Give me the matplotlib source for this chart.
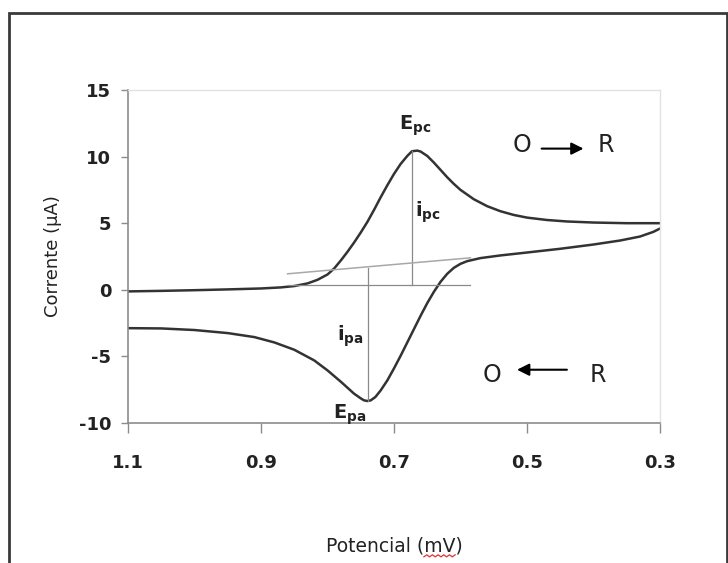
import numpy as np
import matplotlib
matplotlib.use("Agg")
import matplotlib.pyplot as plt
from matplotlib.patches import Rectangle

# forward scan (reduction, O -> R), potential goes 1.1 -> 0.3
fwd_potential = [1.10, 1.05, 1.00, 0.95, 0.90, 0.87, 0.85, 0.83, 0.815, 0.80,
                 0.79, 0.78, 0.77, 0.76, 0.75, 0.74, 0.73, 0.72, 0.71, 0.70,
                 0.69, 0.68, 0.673, 0.665, 0.66, 0.65, 0.64, 0.63, 0.62, 0.61,
                 0.60, 0.58, 0.56, 0.54, 0.52, 0.50, 0.47, 0.44, 0.40, 0.35,
                 0.30]
fwd_current = [-0.12, -0.08, -0.03, 0.03, 0.10, 0.18, 0.28, 0.48, 0.75, 1.15,
               1.6, 2.2, 2.85, 3.55, 4.3, 5.1, 6.0, 6.95, 7.85, 8.7,
               9.45, 10.05, 10.4, 10.45, 10.38, 10.05, 9.55, 9.0, 8.45, 7.95,
               7.5, 6.8, 6.28, 5.9, 5.62, 5.42, 5.24, 5.13, 5.05, 5.0,
               5.0]

# reverse scan (oxidation, R -> O), potential goes 0.3 -> 1.1
rev_potential = [0.30, 0.31, 0.33, 0.36, 0.40, 0.45, 0.50, 0.54, 0.57, 0.59,
                 0.60, 0.61, 0.62, 0.63, 0.64, 0.65, 0.66, 0.67, 0.68, 0.69,
                 0.70, 0.71, 0.72, 0.728, 0.735, 0.74, 0.745, 0.75, 0.76, 0.77,
                 0.78, 0.80, 0.82, 0.85, 0.88, 0.91, 0.95, 1.00, 1.05, 1.10]
rev_current = [4.6, 4.35, 4.0, 3.7, 3.4, 3.08, 2.8, 2.58, 2.38, 2.15,
               1.95, 1.65, 1.2, 0.6, -0.15, -1.0, -1.95, -2.95, -3.95, -4.95,
               -5.9, -6.8, -7.55, -8.05, -8.3, -8.35, -8.3, -8.15, -7.8, -7.35,
               -6.9, -6.05, -5.3, -4.5, -3.95, -3.55, -3.25, -3.02, -2.9, -2.88]

# peak construction lines
epc, ipc_peak, ipc_base = 0.673, 10.45, 0.37
epa, ipa_peak, ipa_base = 0.739, -8.35, 1.6
base_c = ([0.86, 0.585], [0.37, 0.37])      # cathodic baseline
base_a = ([0.86, 0.585], [1.2, 2.4])        # anodic baseline (extrapolated)

x_ticks = [1.1, 0.9, 0.7, 0.5, 0.3]
y_ticks = [-10, -5, 0, 5, 10, 15]

plt.rcParams['font.family'] = ['DejaVu Sans']
plt.rcParams['mathtext.fontset'] = 'dejavusans'

W, H = 728, 563
fig = plt.figure(figsize=(W / 100, H / 100), dpi=100)
fig.patch.set_facecolor('white')

# outer frame around the whole chart
fig.patches.append(Rectangle((9 / W, -0.05), 718 / W, 1.05 - 13 / H,
                             transform=fig.transFigure, fill=False,
                             edgecolor='#3a3a3a', linewidth=2))

ax = fig.add_axes([128 / W, 1 - 423 / H, 532 / W, 333 / H])

ax.plot(fwd_potential, fwd_current, color='#333333', lw=1.8, solid_capstyle='round')
ax.plot(rev_potential, rev_current, color='#333333', lw=1.8, solid_capstyle='round')

ax.plot([epc, epc], [ipc_base, ipc_peak], color='#8a8a8a', lw=0.9)
ax.plot([epa, epa], [ipa_base, ipa_peak], color='#8a8a8a', lw=0.9)
ax.plot(*base_c, color='#8a8a8a', lw=0.9)
ax.plot(*base_a, color='#a8a8a8', lw=1.1)

ax.set_xlim(1.1, 0.3)
ax.set_ylim(-10, 15)
ax.set_xticks(x_ticks)
ax.set_xticklabels([f"{v:.1f}" for v in x_ticks])
ax.set_yticks(y_ticks)
ax.set_yticklabels([str(v) for v in y_ticks])

for side in ['left', 'bottom']:
    ax.spines[side].set_color('#8c8c8c')
    ax.spines[side].set_linewidth(1.2)
for side in ['top', 'right']:
    ax.spines[side].set_color('#e2e2e2')
    ax.spines[side].set_linewidth(1.0)

ax.tick_params(axis='both', direction='out', color='#8c8c8c', width=1.0,
               labelsize=13, labelcolor='#222222')
ax.tick_params(axis='x', length=7, pad=15)
ax.tick_params(axis='y', length=5, pad=7)
for lab in ax.get_xticklabels() + ax.get_yticklabels():
    lab.set_fontweight('bold')

ax.set_ylabel('Corrente (µA)', fontsize=13, color='#222222', labelpad=12)
xlab = ax.set_xlabel('Potencial (mV)', fontsize=13.5, color='#222222', labelpad=47)

# peak labels
ax.text(0.668, 12.3, r'$\mathbf{E}_{\mathbf{pc}}$', fontsize=14, ha='center', va='center', color='#222222')
ax.text(0.668, 5.8, r'$\mathbf{i}_{\mathbf{pc}}$', fontsize=14, ha='left', va='center', color='#222222')
ax.text(0.765, -3.45, r'$\mathbf{i}_{\mathbf{pa}}$', fontsize=14, ha='center', va='center', color='#222222')
ax.text(0.766, -9.4, r'$\mathbf{E}_{\mathbf{pa}}$', fontsize=14, ha='center', va='center', color='#222222')

# reaction direction
ax.text(0.5075, 10.85, 'O', fontsize=17, ha='center', va='center', color='#222222')
ax.text(0.381, 10.85, 'R', fontsize=17, ha='center', va='center', color='#222222')
ax.annotate('', xy=(0.415, 10.6), xytext=(0.478, 10.6),
            arrowprops=dict(arrowstyle='-|>', color='black', lw=1.5,
                            mutation_scale=18, shrinkA=0, shrinkB=0))
ax.text(0.552, -6.36, 'O', fontsize=17, ha='center', va='center', color='#222222')
ax.text(0.393, -6.36, 'R', fontsize=17, ha='center', va='center', color='#222222')
ax.annotate('', xy=(0.515, -6.0), xytext=(0.44, -6.0),
            arrowprops=dict(arrowstyle='-|>', color='black', lw=1.5,
                            mutation_scale=18, shrinkA=0, shrinkB=0))

# red spell-check squiggle under "mV" of the x label
fig.canvas.draw()
renderer = fig.canvas.get_renderer()
bb = xlab.get_window_extent(renderer)
probe = fig.text(0, 0, 'Potencial (', fontsize=13.5)
head_w = probe.get_window_extent(renderer).width
probe.remove()
probe = fig.text(0, 0, 'mV', fontsize=13.5)
mv_w = probe.get_window_extent(renderer).width
probe.remove()
sx = np.linspace(bb.x0 + head_w, bb.x0 + head_w + mv_w, 12)
sy = bb.y0 - 1 + np.where(np.arange(12) % 2 == 0, 0.0, 2.0)
fig.add_artist(plt.Line2D(sx / W, sy / H, transform=fig.transFigure,
                          color='#e03030', lw=0.9))

fig.savefig('out.png', dpi=100, facecolor='white')
